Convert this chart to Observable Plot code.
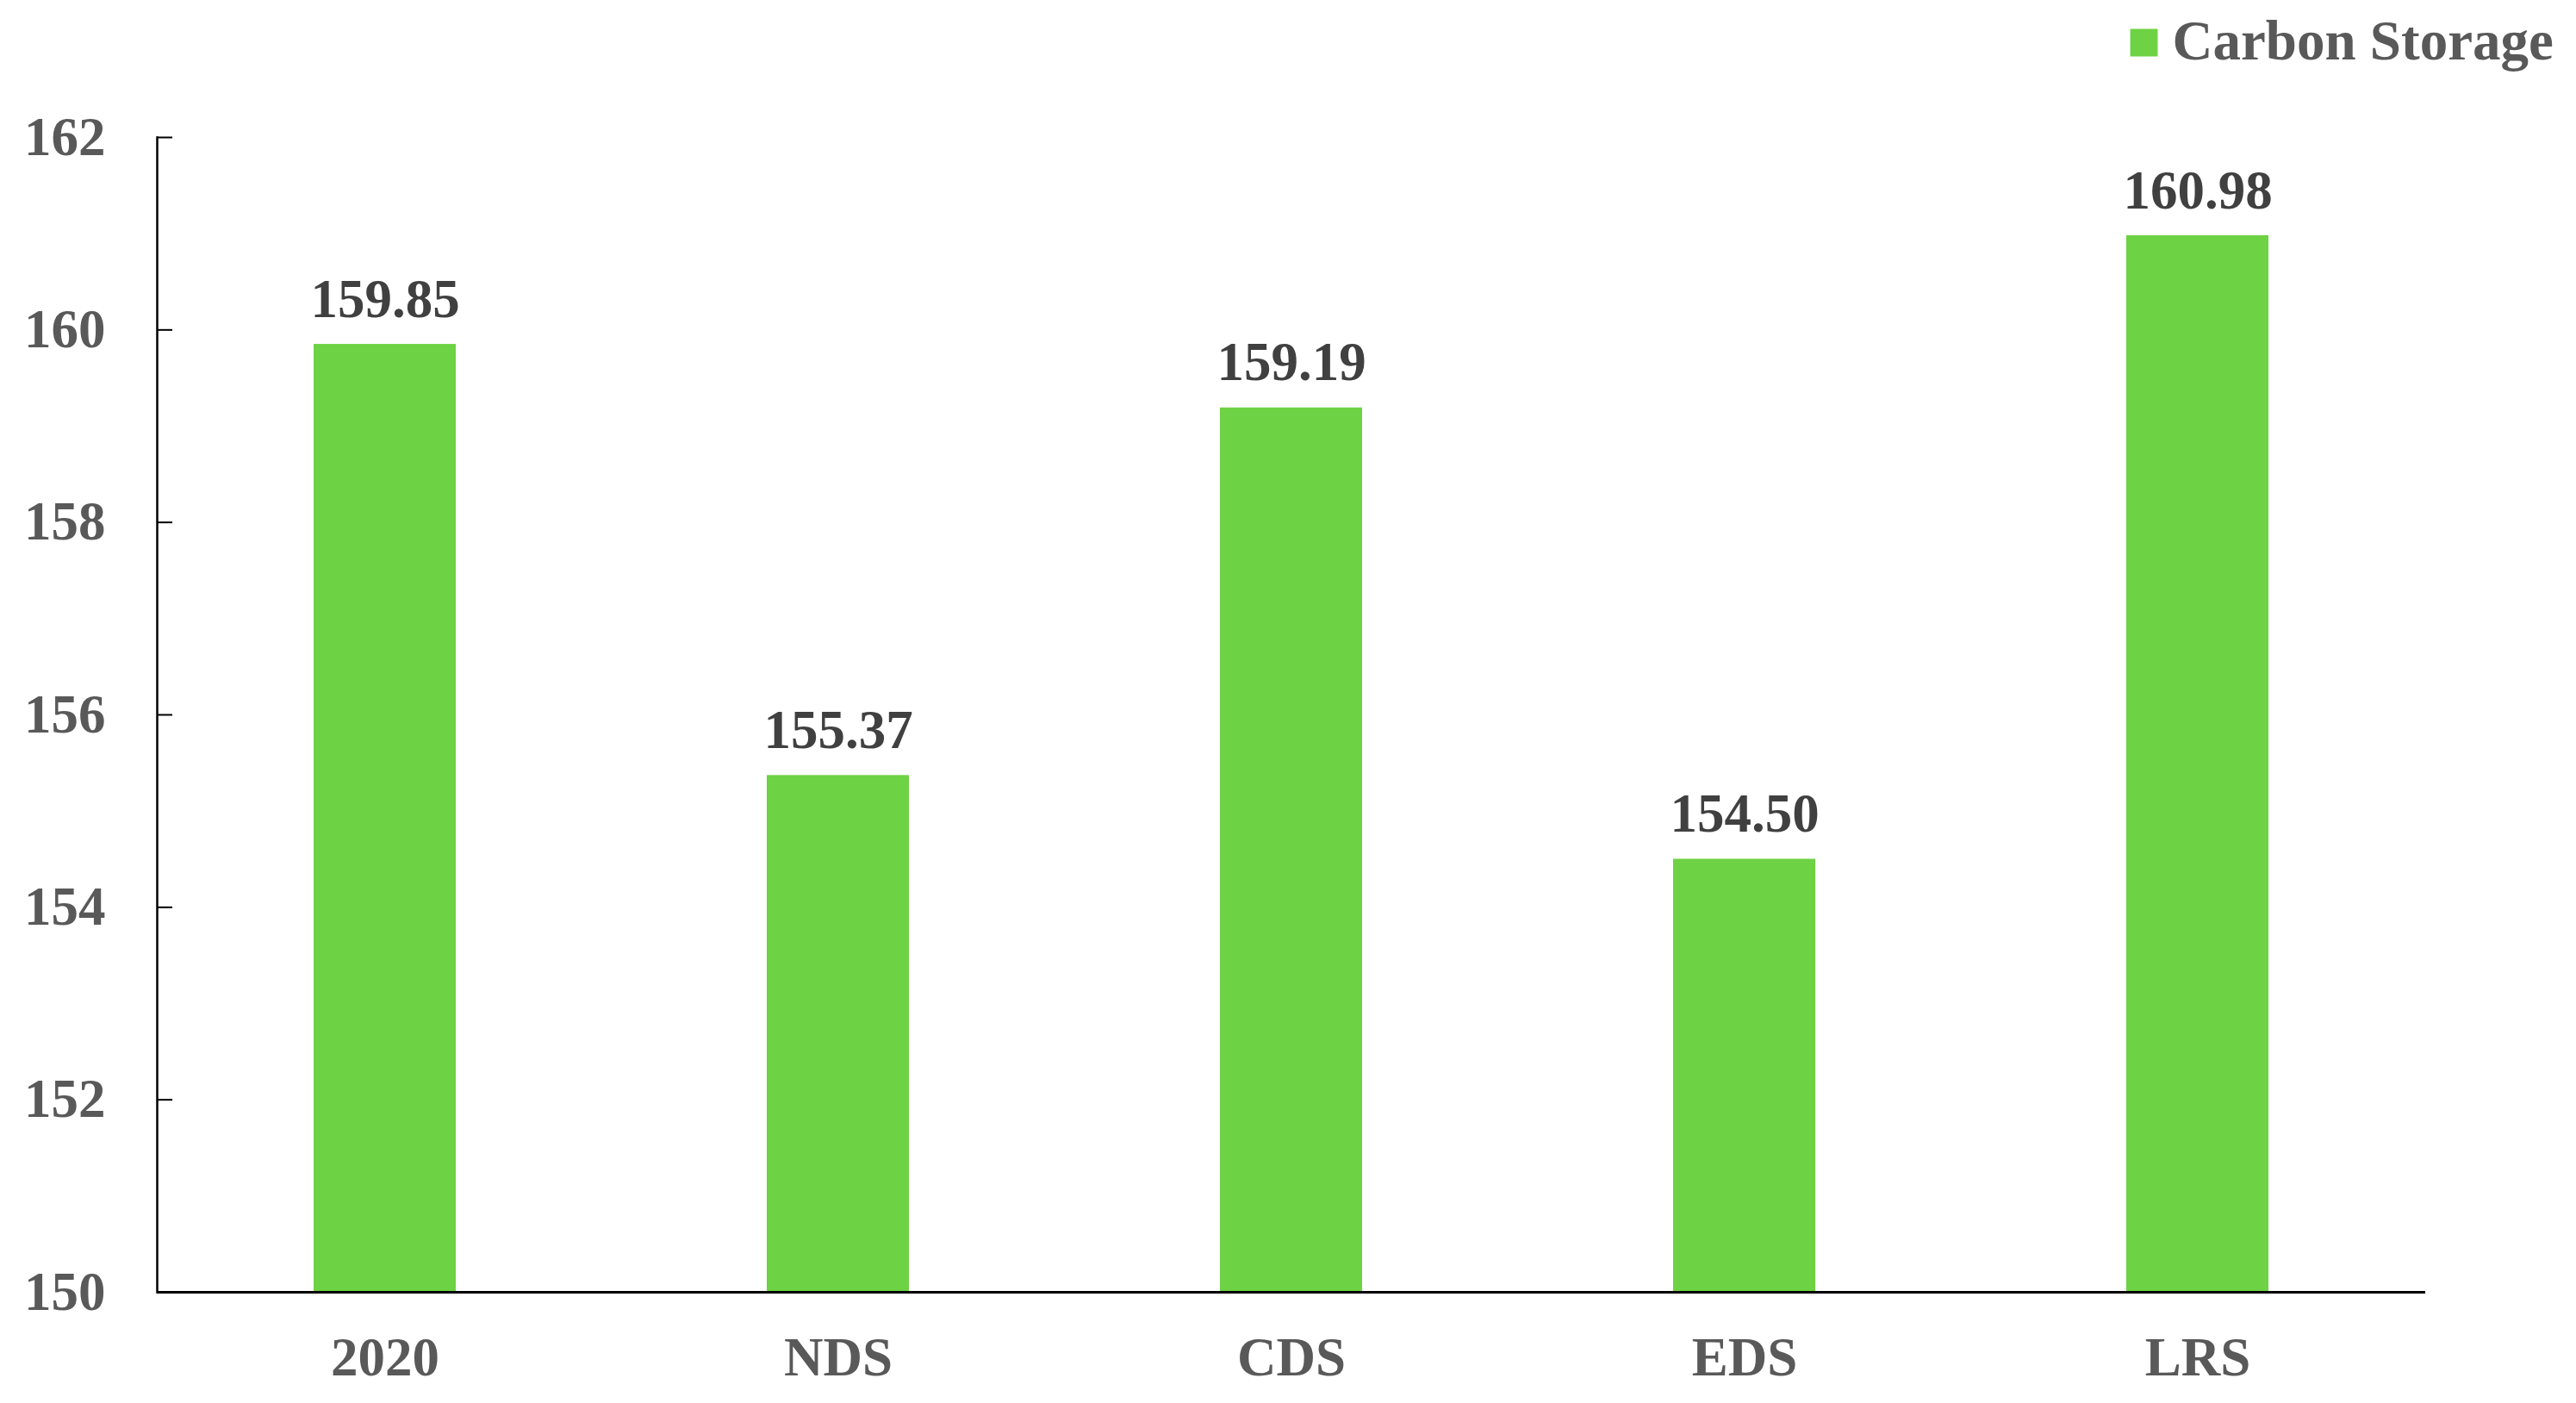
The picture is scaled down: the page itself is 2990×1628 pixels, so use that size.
<!DOCTYPE html>
<html>
<head>
<meta charset="utf-8">
<script src="https://cdn.jsdelivr.net/npm/d3@7"></script>
<script src="https://cdn.jsdelivr.net/npm/@observablehq/plot@0.6"></script>
<style>
  html, body { margin: 0; padding: 0; background: #fff; }
  #chart svg { display: block; }
</style>
</head>
<body>
<div id="chart"></div>
<script>
const categories = ["2020", "NDS", "CDS", "EDS", "LRS"];
const values = [159.85, 155.37, 159.19, 154.50, 160.98];
const yTicks = [150, 152, 154, 156, 158, 160, 162];
const seriesName = "Carbon Storage";

const data = categories.map((c, i) => ({cat: c, value: values[i]}));

const W = 2990, H = 1628;
const mL = 182, mR = 175, mT = 159, mB = 129;
const plotW = W - mL - mR;
const font = "'Liberation Serif', 'Times New Roman', serif";
const green = "#6dd244";

const chart = Plot.plot({
  width: W,
  height: H,
  marginLeft: mL,
  marginRight: mR,
  marginTop: mT,
  marginBottom: mB,
  style: {fontFamily: font, fontWeight: "bold", background: "#fff", overflow: "visible"},
  x: {domain: categories, paddingInner: 0.686, paddingOuter: 0.343, label: null},
  y: {domain: [150, 162], label: null},
  marks: [
    Plot.barY(data, {x: "cat", y1: 150, y2: "value", fill: green}),
    Plot.text(data, {x: "cat", y: "value", text: d => d.value.toFixed(2), lineAnchor: "middle", dy: -52, fontSize: 63, fontWeight: "bold", fill: "#404040"}),
    Plot.ruleY(yTicks, {y: d => d, insetRight: plotW - 18, stroke: "#000", strokeWidth: 2}),
    Plot.ruleY([150], {stroke: "#000", strokeWidth: 3}),
    Plot.frame({anchor: "left", stroke: "#000", strokeWidth: 2.5}),
    Plot.axisY(yTicks, {tickSize: 0, tickPadding: 60, fontSize: 63, fontWeight: "bold", fill: "#595959", label: null, tickFormat: d => String(d)}),
    Plot.axisX({tickSize: 0, tickPadding: 52, fontSize: 63, fontWeight: "bold", fill: "#595959", label: null}),
    Plot.dot([seriesName], {frameAnchor: "top-right", dx: -327, dy: -110, symbol: "square", r: 18, fill: green, stroke: null}),
    Plot.text([seriesName], {frameAnchor: "top-right", dx: -294, dy: -111, text: d => d, textAnchor: "start", lineAnchor: "middle", fontSize: 65, fontWeight: "bold", fill: "#595959"})
  ]
});

document.getElementById("chart").appendChild(chart);
</script>
</body>
</html>
